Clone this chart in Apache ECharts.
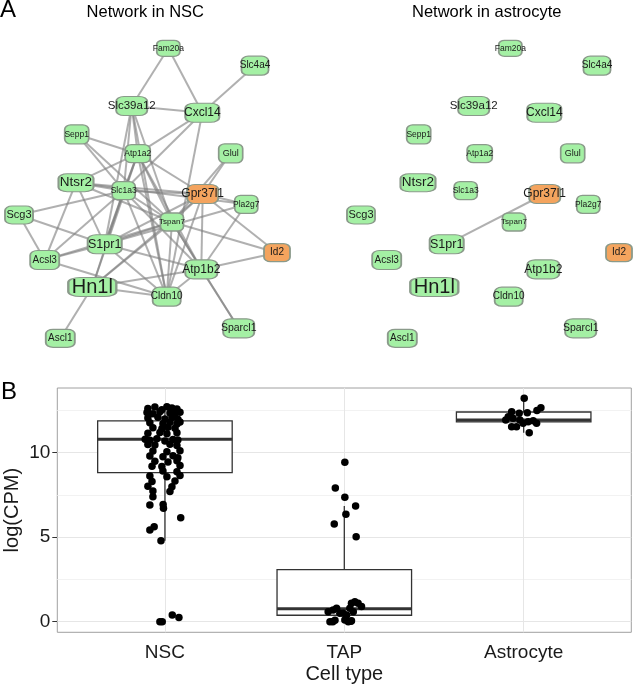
<!DOCTYPE html>
<html><head><meta charset="utf-8">
<script src="https://cdn.jsdelivr.net/npm/echarts@6/dist/echarts.min.js"></script>
<style>html,body{margin:0;padding:0;background:#fff}#c{width:633px;height:684px}</style>
</head><body><div id="c"></div>
<script>
// ---------- Panel A data ----------
const geneNames = ['Fam20a','Slc4a4','Slc39a12','Cxcl14','Sepp1','Atp1a2','Glul','Ntsr2','Slc1a3','Gpr37l1','Pla2g7','Scg3','Tspan7','S1pr1','Acsl3','Id2','Atp1b2','Hn1l','Cldn10','Sparcl1','Ascl1'];
const layoutX = [168.3,255,131.7,202.3,76.7,137.7,230.7,76,123.7,202.7,246.3,19,172,104.7,44.7,277,201.3,92.3,166.7,238.7,60.3];
const layoutY = [48.3,65.7,106,112.7,134.3,153.7,153.3,182.7,190.7,194,204.3,215,222,244.3,260,252.7,269.3,287,296.7,328.3,338.3];
const highlightedGenes = ['Gpr37l1','Id2'];
const nscEdges = [
 ['Fam20a','Slc39a12'],['Fam20a','Cxcl14'],['Slc4a4','Cxcl14'],['Slc39a12','Cxcl14'],
 ['Slc39a12','Atp1a2'],['Slc39a12','Slc1a3'],['Slc39a12','Tspan7'],['Slc39a12','Cldn10'],['Slc39a12','S1pr1'],
 ['Cxcl14','Atp1a2'],['Cxcl14','Slc1a3'],['Cxcl14','Cldn10'],
 ['Sepp1','Atp1a2'],['Sepp1','Slc1a3'],['Sepp1','Tspan7'],
 ['Atp1a2','Ntsr2'],['Atp1a2','Slc1a3'],['Atp1a2','Tspan7'],['Atp1a2','Atp1b2'],['Atp1a2','Cldn10'],['Atp1a2','Gpr37l1'],['Atp1a2','S1pr1'],['Atp1a2','Hn1l'],
 ['Glul','Gpr37l1'],['Glul','Tspan7'],
 ['Ntsr2','Slc1a3'],['Ntsr2','Gpr37l1'],['Ntsr2','Pla2g7'],['Ntsr2','Acsl3'],['Ntsr2','S1pr1'],['Ntsr2','Tspan7'],
 ['Slc1a3','Gpr37l1'],['Slc1a3','Tspan7'],['Slc1a3','Atp1b2'],['Slc1a3','Cldn10'],['Slc1a3','S1pr1'],['Slc1a3','Hn1l'],['Slc1a3','Scg3'],['Slc1a3','Acsl3'],
 ['Scg3','S1pr1'],['Scg3','Acsl3'],
 ['Gpr37l1','Pla2g7'],['Gpr37l1','Tspan7'],['Gpr37l1','S1pr1'],['Gpr37l1','Atp1b2'],['Gpr37l1','Cldn10'],['Gpr37l1','Id2'],['Gpr37l1','Hn1l'],
 ['Pla2g7','S1pr1'],['Pla2g7','Atp1b2'],
 ['Tspan7','Id2'],['Tspan7','S1pr1'],['Tspan7','Acsl3'],['Tspan7','Hn1l'],['Tspan7','Cldn10'],['Tspan7','Atp1b2'],['Tspan7','Sparcl1'],
 ['S1pr1','Acsl3'],['S1pr1','Atp1b2'],['S1pr1','Cldn10'],
 ['Acsl3','Cldn10'],
 ['Hn1l','Ascl1'],['Hn1l','Cldn10'],['Hn1l','Atp1b2'],
 ['Atp1b2','Id2'],['Atp1b2','Cldn10'],['Atp1b2','Sparcl1']
];
const astrocyteEdges = [['S1pr1','Gpr37l1']];

// ---------- Panel B data ----------
const cellTypes = ['NSC','TAP','Astrocyte'];
const yTickValues = [0,5,10];
const yMinorGrid = [2.5,7.5,12.5];
const boxLow    = [4.79, 0.00, 11.18];
const boxQ1     = [8.82, 0.38, 11.82];
const boxMedian = [10.79, 0.77, 11.93];
const boxQ3     = [11.88, 3.08, 12.41];
const boxHigh   = [12.72, 6.85, 13.22];

const nscValues = [12.62,12.70,12.55,12.72,12.64,12.58,12.38,12.30,12.42,12.35,12.28,12.40,12.05,12.10,12.00,12.08,11.98,
 11.78,11.72,11.80,11.70,11.82,11.48,11.42,11.50,11.45,11.15,11.20,11.12,11.18,10.80,10.74,10.82,10.70,10.78,10.75,
 10.48,10.45,10.50,10.42,10.10,10.05,10.12,9.80,9.76,9.82,9.70,9.50,9.45,9.52,9.20,9.18,9.25,8.92,8.88,8.62,8.58,8.65,
 8.30,8.33,8.02,7.98,7.73,7.70,7.40,6.91,6.93,6.71,6.15,5.62,5.43,4.79,0.00,0.00,0.40,0.24];
const nscJitter = [-0.095,-0.056,-0.017,0.011,0.039,0.067,-0.10,-0.067,-0.028,0.028,0.056,0.084,-0.095,-0.039,0,0.039,0.072,
 -0.084,-0.011,0.028,0.067,0.084,-0.067,-0.017,0.017,0.056,-0.095,-0.028,0.011,0.067,-0.11,-0.084,-0.045,0,0.045,0.072,
 -0.095,-0.056,0.028,0.067,-0.067,0.011,0.084,-0.084,-0.011,0.045,0.072,-0.056,0.017,0.067,-0.072,-0.017,0.084,-0.011,0.067,-0.084,0.011,0.084,
 -0.072,0.056,-0.095,0.039,-0.067,0.028,-0.067,-0.084,-0.010,-0.008,0.088,-0.060,-0.084,-0.022,-0.028,-0.015,0.041,0.078];
const tapValues = [9.43,7.91,7.36,6.85,6.36,5.78,5.03,0.59,0.69,0.79,0.50,0.00,0.08,0.10,0.00,0.06,0.40,0.79,1.09,1.18,1.09,0.89,0.59,0.50,0.00,0.02];
const tapJitter = [0.003,-0.050,0.003,0.063,0.009,-0.056,0.066,-0.090,-0.062,-0.043,-0.025,-0.080,-0.052,0.003,0.022,0.040,0.013,0.031,0.040,0.059,0.077,0.096,0.050,-0.006,-0.064,0.037];
const astroValues = [13.22,12.66,12.50,12.37,12.33,12.43,12.13,11.93,12.04,11.93,11.83,11.89,11.74,11.54,11.54,11.18,11.74];
const astroJitter = [0.003,0.096,0.074,0.020,-0.025,-0.067,-0.086,-0.100,-0.059,-0.021,0.025,0.053,0.072,-0.067,-0.040,0.031,-0.003];

// ---------- styles ----------
const FONT = '"Liberation Sans", Arial, Helvetica, sans-serif';
const nodeW = [23,27,31,34,24,25,24,35,23,31,23,28,23,34,29,26,32,48,28,31,29];
const nodeH = [16,19,19,19,19,18,19,18,18,19,18,18,18,19,19,18,19,19,19,19,18];
const nodeFont = [8.5,10,11.5,12,8.5,8.5,9,13.5,8.5,12,8.5,11,8,12.5,10,10,12,20,10,10.5,10];
const GREEN = '#a4f0a4', ORANGE = '#f4a45e';

function graphSeries(edges, axisIdx) {
  return {
    type: 'graph', layout: 'none', coordinateSystem: 'cartesian2d',
    xAxisIndex: axisIdx, yAxisIndex: axisIdx, silent: true, animation: false,
    data: geneNames.map((g, i) => ({
      name: g, value: [layoutX[i], layoutY[i]],
      symbol: 'roundRect', symbolSize: [nodeW[i], nodeH[i]],
      itemStyle: { color: highlightedGenes.includes(g) ? ORANGE : GREEN },
      label: { fontSize: nodeFont[i] }
    })),
    links: edges.map(e => ({ source: e[0], target: e[1] })),
    itemStyle: { borderColor: '#8a9a8a', borderWidth: 1.5 },
    lineStyle: { color: '#808080', width: 2, opacity: 0.62, curveness: 0 },
    label: { show: true, position: 'inside', color: '#1a1a1a', fontFamily: FONT },
    emphasis: { disabled: true }
  };
}

function boxRender(params, api) {
  const x = api.value(0);
  const pLo = api.coord([x, api.value(1)]), pQ1 = api.coord([x, api.value(2)]);
  const pMed = api.coord([x, api.value(3)]), pQ3 = api.coord([x, api.value(4)]);
  const pHi = api.coord([x, api.value(5)]);
  const half = api.size([0.75, 0])[0] / 2;
  const stroke = '#333';
  return { type: 'group', children: [
    { type: 'line', shape: { x1: pLo[0], y1: pLo[1], x2: pQ1[0], y2: pQ1[1] }, style: { stroke, lineWidth: 1.3 } },
    { type: 'line', shape: { x1: pQ3[0], y1: pQ3[1], x2: pHi[0], y2: pHi[1] }, style: { stroke, lineWidth: 1.3 } },
    { type: 'rect', shape: { x: pQ1[0] - half, y: pQ3[1], width: 2 * half, height: pQ1[1] - pQ3[1] }, style: { fill: '#fff', stroke, lineWidth: 1.3 } },
    { type: 'line', shape: { x1: pMed[0] - half, y1: pMed[1], x2: pMed[0] + half, y2: pMed[1] }, style: { stroke, lineWidth: 3 } }
  ]};
}

const pointData = [];
[nscValues, tapValues, astroValues].forEach((vals, ci) => {
  const jit = [nscJitter, tapJitter, astroJitter][ci];
  vals.forEach((v, k) => pointData.push([ci + 1 + jit[k], v]));
});

const gridLines = [];
yTickValues.forEach(v => gridLines.push({ yAxis: v, lineStyle: { color: '#e6e6e6', width: 1, type: 'solid' } }));
yMinorGrid.forEach(v => gridLines.push({ yAxis: v, lineStyle: { color: '#f2f2f2', width: 1, type: 'solid' } }));
cellTypes.forEach((c, i) => gridLines.push({ xAxis: i + 1, lineStyle: { color: '#e6e6e6', width: 1, type: 'solid' } }));

const hiddenAxis = (min, max, inverse) => ({ type: 'value', min, max, inverse: !!inverse, show: false });

const option = {
  animation: false,
  backgroundColor: '#fff',
  textStyle: { fontFamily: FONT },
  graphic: [
    { type: 'text', x: 0, y: 10.5, style: { text: 'A', font: '24px ' + FONT, fill: '#000', verticalAlign: 'middle', textVerticalAlign: 'middle' } },
    { type: 'text', x: 145.3, y: 12, style: { text: 'Network in NSC', font: '16.5px ' + FONT, fill: '#000', align: 'center', textAlign: 'center', verticalAlign: 'middle', textVerticalAlign: 'middle' } },
    { type: 'text', x: 486.7, y: 12, style: { text: 'Network in astrocyte', font: '16.5px ' + FONT, fill: '#000', align: 'center', textAlign: 'center', verticalAlign: 'middle', textVerticalAlign: 'middle' } },
    { type: 'text', x: 1, y: 392, style: { text: 'B', font: '24px ' + FONT, fill: '#000', verticalAlign: 'middle', textVerticalAlign: 'middle' } }
  ],
  grid: [
    { left: 0, top: 0, width: 316, height: 360, outerBoundsMode: 'none' },
    { left: 342, top: 0, width: 291, height: 360, outerBoundsMode: 'none' },
    { left: 57.3, top: 388, width: 574, height: 244.3, show: true, borderColor: '#a0a0a0', borderWidth: 1, backgroundColor: 'transparent', outerBoundsMode: 'none' }
  ],
  xAxis: [
    Object.assign(hiddenAxis(0, 316), { gridIndex: 0 }),
    Object.assign(hiddenAxis(0, 291), { gridIndex: 1 }),
    {
      gridIndex: 2, type: 'value', min: 0.4, max: 3.6,
      name: 'Cell type', nameLocation: 'middle', nameGap: 32,
      nameTextStyle: { fontSize: 20, color: '#1a1a1a', fontFamily: FONT },
      axisLine: { show: false },
      axisTick: { show: true, customValues: [1, 2, 3], length: 5, lineStyle: { color: '#333', width: 1 } },
      axisLabel: { customValues: [1, 2, 3], formatter: v => cellTypes[Math.round(v) - 1] || '', fontSize: 19, color: '#1a1a1a', margin: 11, fontFamily: FONT },
      splitLine: { show: false }
    }
  ],
  yAxis: [
    Object.assign(hiddenAxis(0, 360, true), { gridIndex: 0 }),
    Object.assign(hiddenAxis(0, 360, true), { gridIndex: 1 }),
    {
      gridIndex: 2, type: 'value', min: -0.63, max: 13.83,
      name: 'log(CPM)', nameLocation: 'middle', nameGap: 35, nameMoveOverlap: false,
      nameTextStyle: { fontSize: 20, color: '#1a1a1a', fontFamily: FONT },
      axisLine: { show: false },
      axisTick: { show: true, customValues: yTickValues, length: 5, lineStyle: { color: '#333', width: 1 } },
      axisLabel: { customValues: yTickValues, fontSize: 19, color: '#1a1a1a', margin: 7, fontFamily: FONT },
      splitLine: { show: false }
    }
  ],
  series: [
    graphSeries(nscEdges, 0),
    graphSeries(astrocyteEdges, 1),
    {
      type: 'scatter', xAxisIndex: 2, yAxisIndex: 2, z: 1, silent: true,
      data: [[2, 5]], symbolSize: 0, itemStyle: { opacity: 0 },
      markLine: { z: 1, silent: true, symbol: ['none', 'none'], label: { show: false }, animation: false,
        lineStyle: { type: 'solid' }, data: gridLines }
    },
    {
      type: 'custom', xAxisIndex: 2, yAxisIndex: 2, z: 2, silent: true,
      renderItem: boxRender,
      encode: { x: 0, y: [1, 2, 3, 4, 5] },
      data: cellTypes.map((c, i) => [i + 1, boxLow[i], boxQ1[i], boxMedian[i], boxQ3[i], boxHigh[i]])
    },
    {
      type: 'scatter', xAxisIndex: 2, yAxisIndex: 2, z: 3, silent: true,
      symbolSize: 7.5, itemStyle: { color: '#000', opacity: 1 },
      data: pointData
    }
  ]
};
const chart = echarts.init(document.getElementById('c'), null, { renderer: 'canvas' });
chart.setOption(option);
</script></body></html>
